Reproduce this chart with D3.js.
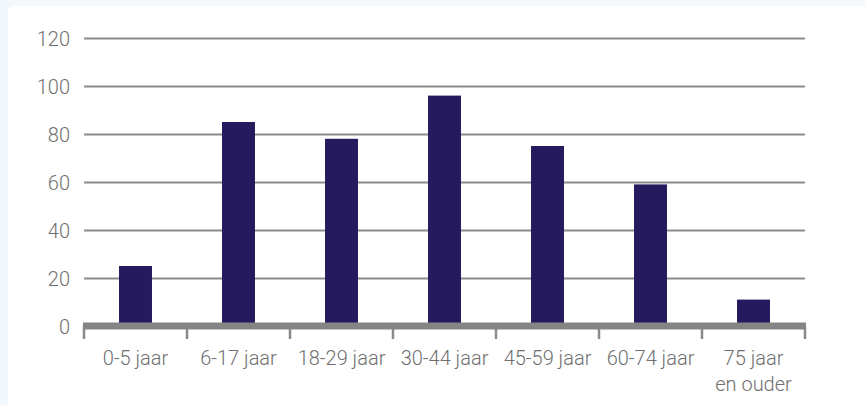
<!doctype html>
<html>
<head>
<meta charset="utf-8">
<script src="https://cdn.jsdelivr.net/npm/d3@7"></script>
<style>
  body { margin: 0; background: #f3f8fd; }
  svg { display: block; }
  .tick text { font-family: Roboto, sans-serif; font-weight: 300; font-size: 20px; fill: #6f6f6f; }
</style>
</head>
<body>
<svg width="865" height="405"></svg>
<script>
var categories = ["0-5 jaar", "6-17 jaar", "18-29 jaar", "30-44 jaar", "45-59 jaar", "60-74 jaar", "75 jaar\nen ouder"];
var values = [25, 85, 78, 96, 75, 59, 11];
var yTicks = [0, 20, 40, 60, 80, 100, 120];

var svg = d3.select("svg");

// white panel
svg.append("rect")
  .attr("x", 8).attr("y", 6)
  .attr("width", 880).attr("height", 420)
  .attr("rx", 6)
  .style("fill", "#ffffff");

var plotLeft = 84, plotRight = 805, plotTop = 38, plotBottom = 326;

var x = d3.scaleBand().domain(categories).range([plotLeft, plotRight]).paddingInner(0.68).paddingOuter(0.34);
var band = d3.scaleBand().domain(categories).range([plotLeft, plotRight]);
var y = d3.scaleLinear().domain([0, 120]).range([plotBottom, plotTop]);

// gridlines + y labels
var yAxis = svg.append("g")
  .attr("transform", "translate(" + plotLeft + ",0)")
  .call(d3.axisLeft(y).tickValues(yTicks).tickSize(-(plotRight - plotLeft)).tickPadding(14));
yAxis.select(".domain").remove();
yAxis.selectAll(".tick line").style("stroke", "#8a8a8a").style("stroke-width", 2);
yAxis.selectAll(".tick text").attr("dy", "0.35em");

// bars
svg.append("g").selectAll("rect")
  .data(values)
  .enter().append("rect")
  .attr("x", function(d, i) { return x(categories[i]); })
  .attr("width", x.bandwidth())
  .attr("y", function(d) { return y(d); })
  .attr("height", function(d) { return y(0) - y(d) - 3; })
  .style("fill", "#251a5d");

// x axis: thick baseline + ticks between categories
var boundaries = categories.map(function(c) { return band(c); }).concat([plotRight]);
svg.append("g").selectAll("line")
  .data(boundaries)
  .enter().append("line")
  .attr("x1", function(d) { return d; }).attr("x2", function(d) { return d; })
  .attr("y1", plotBottom).attr("y2", plotBottom + 13)
  .style("stroke", "#8a8a8a").style("stroke-width", 2.5);

svg.append("line")
  .attr("x1", plotLeft - 1).attr("x2", plotRight + 1)
  .attr("y1", plotBottom).attr("y2", plotBottom)
  .style("stroke", "#858585").style("stroke-width", 7);

// x labels
var xAxis = svg.append("g")
  .attr("transform", "translate(0," + plotBottom + ")")
  .call(d3.axisBottom(band).tickSize(0).tickPadding(0));
xAxis.select(".domain").remove();
xAxis.selectAll(".tick text").each(function(d) {
  var t = d3.select(this).text(null).attr("y", 0).attr("dy", null);
  d.split("\n").forEach(function(line, i) {
    t.append("tspan").attr("x", 0).attr("y", 39 + i * 26).text(line);
  });
});
</script>
</body>
</html>
